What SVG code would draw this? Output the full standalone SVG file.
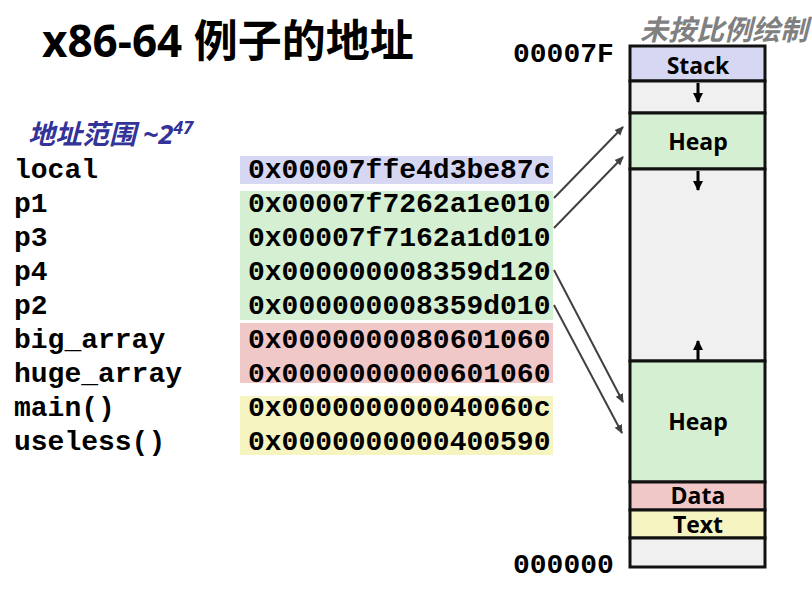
<svg xmlns="http://www.w3.org/2000/svg" width="812" height="598" viewBox="0 0 812 598">
<defs>
<style>
.mono{font-family:"Liberation Mono","Courier New",monospace;font-weight:bold;font-size:28px;fill:#000}
.seg{stroke:#111;stroke-width:3}
.lbl{font-family:"Open Sans","Noto Sans",sans-serif;font-weight:bold;font-size:23px;fill:#000;text-anchor:middle}
.conn{stroke:#404040;stroke-width:2;fill:none;marker-end:url(#ah)}
.grow{stroke:#000;stroke-width:3;fill:none;marker-end:url(#bh)}
</style>
<marker id="ah" markerWidth="10" markerHeight="10" refX="8" refY="5" orient="auto" markerUnits="userSpaceOnUse">
<path d="M0,1 L9,5 L0,9 Z" fill="#404040"/>
</marker>
<marker id="bh" markerWidth="12" markerHeight="12" refX="9" refY="6" orient="auto" markerUnits="userSpaceOnUse">
<path d="M0,1 L10,6 L0,11 Z" fill="#000"/>
</marker>
</defs>
<rect width="812" height="598" fill="#fff"/>
<text x="42" y="57" font-family="'Open Sans','Noto Sans CJK SC',sans-serif" font-weight="bold" font-size="44" fill="#000">x86-64 例子的地址</text>
<text x="28" y="144" font-family="'Open Sans','Noto Sans CJK SC',sans-serif" font-weight="bold" font-style="italic" font-size="27" fill="#333399">地址范围 ~2<tspan font-size="18" dy="-10">47</tspan></text>
<text x="640" y="40" font-family="'Noto Sans CJK SC',sans-serif" font-weight="bold" font-style="italic" font-size="28" fill="#808080">未按比例绘制</text>

<g id="highlights">
<rect x="240" y="156" width="313" height="28" fill="#d6d7f2"/>
<rect x="240" y="191" width="313" height="129" fill="#d4efd1"/>
<rect x="240" y="323" width="313" height="60" fill="#f0c8c8"/>
<rect x="240" y="396" width="313" height="59" fill="#f6f4c0"/>
</g>

<g id="names">
<text class="mono" x="14" y="178">local</text>
<text class="mono" x="14" y="212">p1</text>
<text class="mono" x="14" y="246">p3</text>
<text class="mono" x="14" y="280">p4</text>
<text class="mono" x="14" y="314">p2</text>
<text class="mono" x="14" y="348">big_array</text>
<text class="mono" x="14" y="382">huge_array</text>
<text class="mono" x="14" y="416">main()</text>
<text class="mono" x="14" y="450">useless()</text>
</g>
<g id="addresses">
<text class="mono" x="248" y="178">0x00007ffe4d3be87c</text>
<text class="mono" x="248" y="212">0x00007f7262a1e010</text>
<text class="mono" x="248" y="246">0x00007f7162a1d010</text>
<text class="mono" x="248" y="280">0x000000008359d120</text>
<text class="mono" x="248" y="314">0x000000008359d010</text>
<text class="mono" x="248" y="348">0x0000000080601060</text>
<text class="mono" x="248" y="382">0x0000000000601060</text>
<text class="mono" x="248" y="416">0x000000000040060c</text>
<text class="mono" x="248" y="450">0x0000000000400590</text>
</g>

<text class="mono" x="513" y="62">00007F</text>
<text class="mono" x="513" y="573">000000</text>

<g id="memory">
<g id="stack"><rect class="seg" x="630" y="46" width="135" height="35" fill="#d6d7f2"/><text class="lbl" x="698" y="74">Stack</text></g>
<g id="gap1"><rect class="seg" x="630" y="81" width="135" height="32" fill="#f0f0f0"/></g>
<g id="heap1"><rect class="seg" x="630" y="113" width="135" height="56" fill="#d4efd1"/><text class="lbl" x="698" y="150">Heap</text></g>
<g id="gap2"><rect class="seg" x="630" y="169" width="135" height="192" fill="#f0f0f0"/></g>
<g id="heap2"><rect class="seg" x="630" y="361" width="135" height="121" fill="#d4efd1"/><text class="lbl" x="698" y="430">Heap</text></g>
<g id="data"><rect class="seg" x="630" y="482" width="135" height="28" fill="#f0c8c8"/><text class="lbl" x="698" y="504">Data</text></g>
<g id="text"><rect class="seg" x="630" y="510" width="135" height="28" fill="#f6f4c0"/><text class="lbl" x="698" y="533">Text</text></g>
<g id="gap3"><rect class="seg" x="630" y="538" width="135" height="29" fill="#f0f0f0"/></g>
</g>

<g id="connectors">
<line class="grow" x1="698" y1="83" x2="698" y2="102"/>
<line class="grow" x1="698" y1="171" x2="698" y2="190"/>
<line class="grow" x1="698" y1="360" x2="698" y2="341"/>
<line class="conn" x1="554" y1="198" x2="623" y2="127"/>
<line class="conn" x1="554" y1="228" x2="623" y2="157"/>
<line class="conn" x1="554" y1="270" x2="623" y2="402"/>
<line class="conn" x1="554" y1="305" x2="622" y2="433"/>
</g>
</svg>
